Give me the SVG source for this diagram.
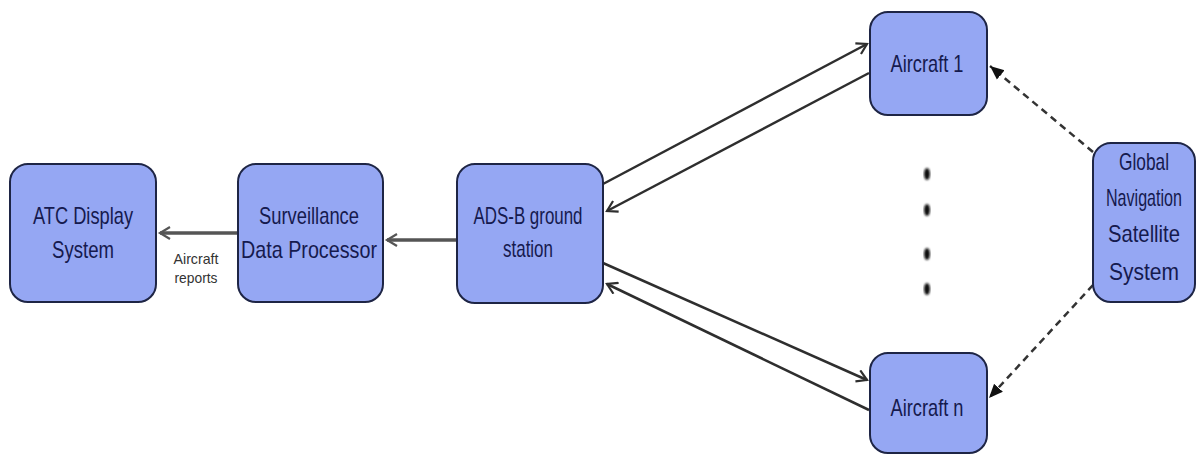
<svg xmlns="http://www.w3.org/2000/svg" width="1201" height="454" viewBox="0 0 1201 454">
<style>
.box{fill:#95a7f3;stroke:#1e2545;stroke-width:2}
.lbl{font-family:"Liberation Sans Narrow","Liberation Sans",Arial,sans-serif;font-size:24px;fill:#151a4e;text-anchor:middle}
.sm{font-family:"Liberation Sans Narrow","Liberation Sans",Arial,sans-serif;font-size:15px;fill:#333;text-anchor:middle}
.ln{stroke:#2e2e2e;stroke-width:2.5;fill:none}
.hz{stroke:#555;stroke-width:3.5;fill:none}
.ds{stroke:#333;stroke-width:2.5;fill:none;stroke-dasharray:7 5}
</style>
<defs>
<marker id="open" markerWidth="14" markerHeight="14" refX="11" refY="7" orient="auto" markerUnits="userSpaceOnUse">
<path d="M1,1 L11,7 L1,13" fill="none" stroke="#2e2e2e" stroke-width="2.2"/>
</marker>
<marker id="openg" markerWidth="14" markerHeight="14" refX="11" refY="7" orient="auto" markerUnits="userSpaceOnUse">
<path d="M1,1 L11,7 L1,13" fill="none" stroke="#555" stroke-width="2.2"/>
</marker>
<marker id="fill" markerWidth="16" markerHeight="16" refX="14" refY="8" orient="auto" markerUnits="userSpaceOnUse">
<path d="M0,2 L14,8 L0,14 Z" fill="#111"/>
</marker>
<filter id="blur"><feGaussianBlur stdDeviation="0.8"/></filter>
</defs>
<rect width="1201" height="454" fill="#ffffff"/>
<g id="connectors">
<line class="hz" x1="457" y1="240" x2="387" y2="240" marker-end="url(#openg)"/>
<line class="hz" x1="238" y1="233" x2="160" y2="233" marker-end="url(#openg)"/>
<line class="ln" x1="603" y1="184" x2="867" y2="44" marker-end="url(#open)"/>
<line class="ln" x1="869" y1="73" x2="607" y2="211" marker-end="url(#open)"/>
<line class="ln" x1="603" y1="263" x2="867" y2="380" marker-end="url(#open)"/>
<line class="ln" x1="869" y1="410" x2="607" y2="284" marker-end="url(#open)"/>
<line class="ds" x1="1093" y1="152" x2="990" y2="66" marker-end="url(#fill)"/>
<line class="ds" x1="1093" y1="285" x2="989" y2="398" marker-end="url(#fill)"/>
<text class="sm" x="196" y="264" textLength="45" lengthAdjust="spacingAndGlyphs">Aircraft</text>
<text class="sm" x="196" y="283" textLength="43" lengthAdjust="spacingAndGlyphs">reports</text>
</g>
<g id="atc">
<rect class="box" x="10" y="164" width="146" height="138" rx="18"/>
<text class="lbl" x="83" y="224" textLength="100" lengthAdjust="spacingAndGlyphs">ATC Display</text>
<text class="lbl" x="83" y="258" textLength="62" lengthAdjust="spacingAndGlyphs">System</text>
</g>
<g id="sdp">
<rect class="box" x="238" y="164" width="145" height="138" rx="18"/>
<text class="lbl" x="309" y="224" textLength="100" lengthAdjust="spacingAndGlyphs">Surveillance</text>
<text class="lbl" x="309" y="258" textLength="136" lengthAdjust="spacingAndGlyphs">Data Processor</text>
</g>
<g id="adsb">
<rect class="box" x="457" y="164" width="146" height="139" rx="18"/>
<text class="lbl" x="528" y="224" textLength="109" lengthAdjust="spacingAndGlyphs">ADS-B ground</text>
<text class="lbl" x="528" y="257" textLength="50" lengthAdjust="spacingAndGlyphs">station</text>
</g>
<g id="aircraft1">
<rect class="box" x="870" y="12" width="117" height="103" rx="18"/>
<text class="lbl" x="927" y="72" textLength="73" lengthAdjust="spacingAndGlyphs">Aircraft 1</text>
</g>
<g id="aircraftn">
<rect class="box" x="870" y="353" width="117" height="100" rx="18"/>
<text class="lbl" x="927" y="416" textLength="73" lengthAdjust="spacingAndGlyphs">Aircraft n</text>
</g>
<g id="gnss">
<rect class="box" x="1093" y="143" width="102" height="159" rx="18"/>
<text class="lbl" x="1144" y="170" textLength="50" lengthAdjust="spacingAndGlyphs">Global</text>
<text class="lbl" x="1144" y="206" font-size="21" textLength="76" lengthAdjust="spacingAndGlyphs">Navigation</text>
<text class="lbl" x="1144" y="242" textLength="72" lengthAdjust="spacingAndGlyphs">Satellite</text>
<text class="lbl" x="1144" y="280" textLength="70" lengthAdjust="spacingAndGlyphs">System</text>
</g>
<g id="dots" filter="url(#blur)" fill="#111">
<ellipse cx="927" cy="174" rx="3" ry="6"/>
<ellipse cx="927" cy="210" rx="3" ry="6"/>
<ellipse cx="927" cy="254" rx="3" ry="6"/>
<ellipse cx="927" cy="289" rx="3" ry="6"/>
</g>
</svg>
